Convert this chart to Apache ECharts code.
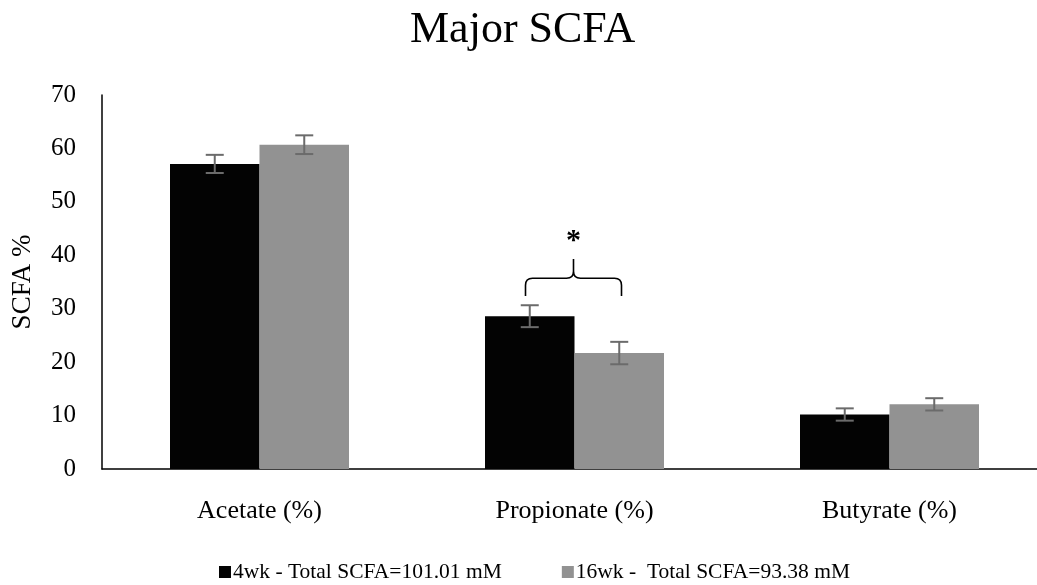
<!DOCTYPE html>
<html>
<head>
<meta charset="utf-8">
<script src="https://cdn.jsdelivr.net/npm/echarts@6/dist/echarts.min.js"></script>
<style>html,body{margin:0;padding:0;background:#fff;overflow:hidden;}#chart{width:1052px;height:585px;}</style>
</head>
<body>
<div id="chart"></div>
<script>
const categories = ['Acetate (%)', 'Propionate (%)', 'Butyrate (%)'];
const seriesNames = ['4wk - Total SCFA=101.01 mM', '16wk -  Total SCFA=93.38 mM'];
const values4wk = [57.1, 28.6, 10.2];
const errors4wk = [1.7, 2.05, 1.15];
const values16wk = [60.7, 21.7, 12.1];
const errors16wk = [1.75, 2.1, 1.15];
// significance bracket: [category index, leg bottom, bracket level, tip level, star level]
const sigBracket = [[1, 32.4, 35.7, 39.3, 42.6]];
const sigLabel = '*';

const FONT = 'Liberation Serif';
const BAR_W = 89.5;

function errItem(offsetSign) {
  return function (params, api) {
    const x = api.value(0), v = api.value(1), e = api.value(2);
    const c = api.coord([x, v]);
    const top = api.coord([x, v + e]);
    const bot = api.coord([x, v - e]);
    const cx = c[0] + offsetSign * BAR_W / 2;
    const hw = 9;
    const style = { stroke: '#6b6b6b', lineWidth: 2 };
    return {
      type: 'group',
      children: [
        { type: 'line', shape: { x1: cx, y1: top[1], x2: cx, y2: bot[1] }, style },
        { type: 'line', shape: { x1: cx - hw, y1: top[1], x2: cx + hw, y2: top[1] }, style },
        { type: 'line', shape: { x1: cx - hw, y1: bot[1], x2: cx + hw, y2: bot[1] }, style }
      ]
    };
  };
}

const chart = echarts.init(document.getElementById('chart'));
chart.setOption({
  backgroundColor: '#fff',
  animation: false,
  title: {
    text: 'Major SCFA',
    left: 405,
    top: 3,
    textStyle: { fontFamily: FONT, fontSize: 44, fontWeight: 'normal', color: '#000' }
  },
  legend: {
    data: seriesNames,
    left: 214,
    top: 556,
    icon: 'rect',
    itemWidth: 12,
    itemHeight: 12,
    itemGap: 60,
    textStyle: { fontFamily: FONT, fontSize: 21.5, color: '#000', padding: [0, 0, 0, -3] }
  },
  grid: { left: 102, top: 95, width: 945, bottom: 116, containLabel: false },
  xAxis: {
    type: 'category',
    data: categories,
    axisLine: { lineStyle: { color: '#000', width: 1.5 } },
    axisTick: { show: false },
    axisLabel: { fontFamily: FONT, fontSize: 26, color: '#000', margin: 29 }
  },
  yAxis: {
    type: 'value',
    min: 0, max: 70, interval: 10,
    name: 'SCFA %',
    nameLocation: 'middle',
    nameGap: 66,
    nameTextStyle: { fontFamily: FONT, fontSize: 27, color: '#000' },
    axisLine: { show: true, lineStyle: { color: '#000', width: 1.5 } },
    axisTick: { show: false },
    splitLine: { show: false },
    axisLabel: { fontFamily: FONT, fontSize: 25, color: '#000', margin: 26 }
  },
  series: [
    {
      name: seriesNames[0], type: 'bar', data: values4wk,
      barWidth: BAR_W, barGap: '0%',
      itemStyle: { color: '#030303' }
    },
    {
      name: seriesNames[1], type: 'bar', data: values16wk,
      barWidth: BAR_W, barGap: '0%',
      itemStyle: { color: '#929292' }
    },
    {
      type: 'custom', name: 'err4', z: 5,
      data: values4wk.map((v, i) => [i, v, errors4wk[i]]),
      renderItem: errItem(-1)
    },
    {
      type: 'custom', name: 'err16', z: 5,
      data: values16wk.map((v, i) => [i, v, errors16wk[i]]),
      renderItem: errItem(1)
    },
    {
      type: 'custom', name: 'sig', z: 6,
      data: sigBracket,
      renderItem: function (params, api) {
        const x = api.value(0);
        const cx = api.coord([x, 0])[0];
        const yLeg = api.coord([x, api.value(1)])[1];
        const yBr = api.coord([x, api.value(2)])[1];
        const yTip = api.coord([x, api.value(3)])[1];
        const yStar = api.coord([x, api.value(4)])[1];
        const x1 = cx - 49, x2 = cx + 47, r = 7, m = cx - 1;
        const d = 'M' + x1 + ' ' + yLeg +
          ' L' + x1 + ' ' + (yBr + r) +
          ' Q' + x1 + ' ' + yBr + ' ' + (x1 + r) + ' ' + yBr +
          ' L' + (m - r) + ' ' + yBr +
          ' Q' + m + ' ' + yBr + ' ' + m + ' ' + (yBr - r) +
          ' L' + m + ' ' + yTip +
          ' M' + m + ' ' + (yBr - r) +
          ' Q' + m + ' ' + yBr + ' ' + (m + r) + ' ' + yBr +
          ' L' + (x2 - r) + ' ' + yBr +
          ' Q' + x2 + ' ' + yBr + ' ' + x2 + ' ' + (yBr + r) +
          ' L' + x2 + ' ' + yLeg;
        return {
          type: 'group',
          children: [
            { type: 'path', shape: { pathData: d }, style: { fill: null, stroke: '#000', lineWidth: 1.6 } },
            { type: 'text', style: { text: sigLabel, x: m, y: yStar, align: 'center', verticalAlign: 'middle',
                font: 'bold 30px "' + FONT + '"', fill: '#000' } }
          ]
        };
      }
    }
  ]
});
</script>
</body>
</html>
